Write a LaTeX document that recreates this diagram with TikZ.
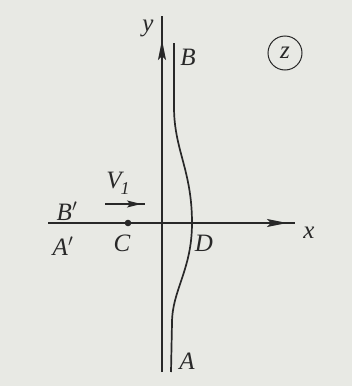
\documentclass[tikz,border=0pt]{standalone}
\usepackage{fontspec}
\setmainfont{Liberation Serif}
\usetikzlibrary{arrows.meta}
\definecolor{bg}{RGB}{232,233,228}
\definecolor{ink}{RGB}{40,40,40}
\begin{document}
\begin{tikzpicture}[x=1pt,y=-1pt,
  lbl/.style={text=ink,font=\fontsize{25}{25}\selectfont\itshape,inner sep=0pt},
  ax/.style={draw=ink,line width=1.7pt},
  tip/.style={-{Stealth[length=20pt,width=8pt,inset=4pt]}}]
\fill[bg] (0,0) rectangle (352,386);
\useasboundingbox (0,0) rectangle (352,386);
% axes
\coordinate (ybot) at (162,372);
\coordinate (ytop) at (162,16);
\coordinate (xl) at (48,223);
\coordinate (xr) at (295,223);
\draw[ax] (ybot) -- (ytop);
\draw[ax,tip] (162,90) -- (162,40);
\draw[ax] (xl) -- (xr);
\draw[ax,tip] (230,223) -- (287,223);
% curve AB
\coordinate (B) at (174,43);
\coordinate (D) at (192,223);
\coordinate (A) at (171,372);
\draw[ax] (B) -- (174,107) .. controls (174,150) and (192,170) .. (D)
  .. controls (192,270) and (172,290) .. (172,323) -- (A);
% point C
\coordinate (C) at (128,223);
\fill[ink] (C) circle (3.3pt);
% V1 arrow
\coordinate (v1) at (105,204);
\coordinate (v2) at (145,204);
\draw[draw=ink,line width=1.3pt] (v1) -- (v2);
\draw[draw=ink,line width=1.3pt,-{Stealth[length=14pt,width=7pt,inset=3pt]}] (115,204) -- (141,204);
% labels
\node[lbl] (ly) at (148,28) {y};
\node[lbl] (lB) at (188,57) {B};
\node[lbl] (lz) at (285,53) {z};
\draw[ink,line width=1pt] (lz) circle (17);
\node[lbl] (lV) at (118,183) {V\kern-1pt\raisebox{-6pt}{\fontsize{18}{18}\selectfont\itshape 1}};
\node[lbl] (lBp) at (67,211) {B$'$};
\node[lbl] (lAp) at (63,246) {A$'$};
\node[lbl] (lC) at (122,243) {C};
\node[lbl] (lD) at (204,243) {D};
\node[lbl] (lx) at (309,233) {x};
\node[lbl] (lA) at (187,361) {A};
\end{tikzpicture}
\end{document}
